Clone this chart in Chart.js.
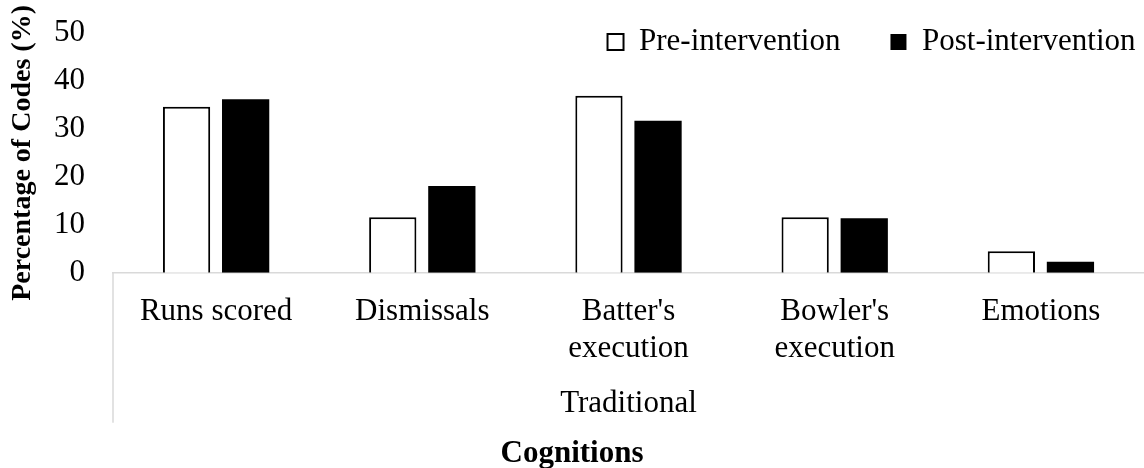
<!DOCTYPE html>
<html>
<head>
<meta charset="utf-8">
<script src="https://cdn.jsdelivr.net/npm/chart.js@4.4.1/dist/chart.umd.min.js"></script>
<style>
  html, body { margin: 0; padding: 0; background: #ffffff; }
  #wrap { width: 1144px; height: 468px; position: relative; }
</style>
</head>
<body>
<div id="wrap"><canvas id="c"></canvas></div>
<script>
// ---- Data ----
const categories = ["Runs scored", "Dismissals", ["Batter's", "execution"], ["Bowler's", "execution"], "Emotions"];
const groupLabel = "Traditional";
const axisTitleX = "Cognitions";
const axisTitleY = "Percentage of Codes (%)";
const seriesNames = ["Pre-intervention", "Post-intervention"];
const preValues = [34.6, 11.6, 36.9, 11.6, 4.5];
const postValues = [36.2, 18.1, 31.7, 11.4, 2.3];
const yTicks = [0, 10, 20, 30, 40, 50];

const FS = 31;
const LEGEND_PAD = 50;
Chart.defaults.font.family = "'Liberation Serif', 'Times New Roman', serif";
Chart.defaults.font.size = FS;
Chart.defaults.color = '#000000';

// divider line for the multi-level category axis + legend placement
const groupDivider = {
  id: 'groupDivider',
  afterLayout(chart) {
    const lg = chart.legend;
    if (lg) {
      lg.top = 42 - FS / 2 - LEGEND_PAD;
      lg.height = 120;
      lg.bottom = lg.top + lg.height;
      lg.right = chart.width + LEGEND_PAD - 9 + 0.5;
      lg.left = 300;
      lg.width = lg.right - lg.left;
    }
  },
  afterDraw(chart) {
    const ctx = chart.ctx;
    const x = chart.scales.x;
    const ca = chart.chartArea;
    ctx.save();
    ctx.strokeStyle = '#d9d9d9';
    ctx.lineWidth = 1.5;
    ctx.beginPath();
    ctx.moveTo(ca.left, ca.bottom);
    ctx.lineTo(ca.left, x.bottom);
    ctx.stroke();
    ctx.restore();
  }
};

new Chart(document.getElementById('c'), {
  type: 'bar',
  data: {
    labels: categories,
    datasets: [
      {
        label: seriesNames[0],
        data: preValues,
        backgroundColor: '#ffffff',
        borderColor: '#000000',
        borderWidth: 2,
        categoryPercentage: 0.573,
        barPercentage: 0.8
      },
      {
        label: seriesNames[1],
        data: postValues,
        backgroundColor: '#000000',
        borderColor: '#000000',
        borderWidth: 0,
        categoryPercentage: 0.573,
        barPercentage: 0.8
      }
    ]
  },
  options: {
    responsive: true,
    maintainAspectRatio: false,
    animation: false,
    layout: { padding: { top: 32, right: 0, bottom: 0, left: 0 } },
    plugins: {
      legend: {
        position: 'top',
        align: 'end',
        maxHeight: 1,
        labels: {
          boxWidth: 16,
          boxHeight: 16,
          padding: LEGEND_PAD,
          font: { size: FS },
          color: '#000000'
        }
      },
      title: {
        display: true,
        text: axisTitleX,
        position: 'bottom',
        font: { size: FS, weight: 'bold' },
        padding: { top: 13, bottom: -5 },
        color: '#000000'
      },
      tooltip: { enabled: false }
    },
    scales: {
      x: {
        afterFit(scale) { scale.height = 150; },
        grid: { display: false, drawTicks: false },
        border: { display: true, color: '#d9d9d9', width: 1.5 },
        ticks: { padding: 20, maxRotation: 0, autoSkip: false, font: { size: FS }, color: '#000000' },
        title: {
          display: true,
          text: groupLabel,
          font: { size: FS },
          padding: { top: 18, bottom: 0 },
          color: '#000000'
        }
      },
      y: {
        min: 0,
        max: 50,
        afterFit(scale) { scale.width = 113; scale.paddingTop = 0; scale.paddingBottom = 0; },
        afterBuildTicks(scale) { scale.ticks = yTicks.map(v => ({ value: v })); },
        grid: { display: false, drawTicks: false },
        border: { display: false },
        ticks: { padding: 28, font: { size: FS }, color: '#000000' },
        title: {
          display: true,
          text: axisTitleY,
          font: { size: 28, weight: 'bold' },
          padding: { top: 6, bottom: 0 },
          color: '#000000'
        }
      }
    }
  },
  plugins: [groupDivider]
});
</script>
</body>
</html>
